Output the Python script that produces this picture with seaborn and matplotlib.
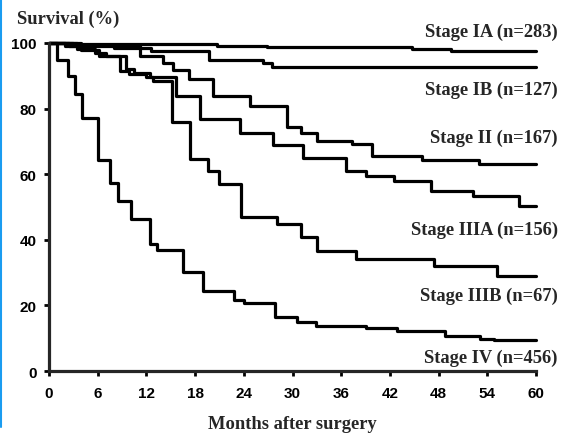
import pandas as pd
import matplotlib.pyplot as plt
import seaborn as sns
from matplotlib.lines import Line2D

# Kaplan-Meier steps (month, survival %)
ia_months = [0, 3, 20.7, 26.8, 44.7, 49.5, 60]
ia_surv = [100, 99.7, 99.2, 98.9, 98.3, 97.5, 97.5]

ib_months = [0, 3.5, 8, 12.6, 19.75, 26.4, 27.5, 60]
ib_surv = [100, 99, 98.5, 97.5, 94.8, 93.8, 92.6, 92.6]

ii_months = [0, 4, 11.2, 14.1, 15.3, 17.2, 20.25, 24.7, 29.3, 31, 33, 37.3, 39.8, 46, 53, 60]
ii_surv = [100, 99.3, 96, 93.9, 91.9, 89, 83.7, 80.7, 74.5, 72.7, 70, 69.2, 65.6, 64.3, 63.1, 63.1]

iiia_months = [0, 2.5, 3.5, 5.7, 7, 9.5, 10.5, 12.5, 15.7, 18.6, 23.5, 27.6, 31.3, 36.6, 39.1,
               42.5, 47, 52.2, 57.9, 60]
iiia_surv = [100, 99, 98.3, 97, 96, 92, 91, 89.5, 83.7, 76.8, 72.7, 69, 64.8, 61.1, 59.4,
             58, 55, 53.5, 50.4, 50.4]

iiib_months = [0, 2, 4, 6.2, 8.7, 9.8, 12, 12.8, 15.1, 17.4, 19.6, 21, 23.6, 28.1, 31, 33,
               37.8, 47.4, 55.2, 60]
iiib_surv = [100, 99, 98, 96, 91.6, 90.5, 89.5, 88.5, 76, 64.7, 60.9, 57, 46.9, 44.8, 40.8, 36.7,
             34, 32.1, 29, 29]

iv_months = [0, 1, 2.3, 3.2, 4.1, 6.05, 7.5, 8.5, 10.1, 12.5, 13.3, 16.5, 19, 22.8, 24, 27.9,
             30.6, 32.9, 39, 42.9, 48.8, 53.1, 54.8, 60]
iv_surv = [100, 94.8, 90, 84.5, 77, 64.4, 57.3, 51.7, 46.2, 38.7, 36.9, 30.1, 24.3, 21.5, 20.6, 16.4,
           14.8, 13.8, 13.0, 12.2, 10.6, 9.75, 9.4, 9.4]

stage_names = ["Stage IA (n=283)", "Stage IB (n=127)", "Stage II (n=167)",
               "Stage IIIA (n=156)", "Stage IIIB (n=67)", "Stage IV (n=456)"]
label_y = [103.4, 86.0, 71.3, 43.3, 23.2, 4.3]
x_ticks = [0, 6, 12, 18, 24, 30, 36, 42, 48, 54, 60]
y_ticks = [0, 20, 40, 60, 80, 100]

series = [(ia_months, ia_surv), (ib_months, ib_surv), (ii_months, ii_surv),
          (iiia_months, iiia_surv), (iiib_months, iiib_surv), (iv_months, iv_surv)]
frames = []
for name, (m, s) in zip(stage_names, series):
    frames.append(pd.DataFrame({"month": m, "survival": s, "stage": name}))
df = pd.concat(frames, ignore_index=True)

sns.set_style("ticks")
serif = ["Liberation Serif", "DejaVu Serif"]
sans = ["Liberation Sans", "DejaVu Sans"]

fig = plt.figure(figsize=(5.68, 4.35), dpi=100)
ax = fig.add_axes([0.0863, 0.1448, 0.8574, 0.7541])

sns.lineplot(data=df, x="month", y="survival", hue="stage", palette=["black"] * 6,
             estimator=None, sort=False, drawstyle="steps-post", linewidth=2.3,
             legend=False, ax=ax, clip_on=False)

ax.set_xlim(0, 60)
ax.set_ylim(0, 100)
ax.set_xticks(x_ticks)
ax.set_yticks(y_ticks)
ax.set_xlabel("")
ax.set_ylabel("")
for sp in ["top", "right"]:
    ax.spines[sp].set_visible(False)
for sp in ["left", "bottom"]:
    ax.spines[sp].set_linewidth(2.3)
ax.tick_params(direction="out", length=3.5, width=2, labelsize=11, colors="black")
ax.tick_params(axis="x", pad=7)
ax.tick_params(axis="y", pad=5.5)
for lab in ax.get_xticklabels() + ax.get_yticklabels():
    lab.set_fontfamily(sans)
    lab.set_fontweight("bold")

for name, y in zip(stage_names, label_y):
    ax.text(62.7, y, name, ha="right", va="center", fontsize=13.3, fontweight="bold",
            family=serif, clip_on=False)

fig.text(0.030, 0.956, "Survival (%)", ha="left", va="center", fontsize=13.3,
         fontweight="bold", family=serif)
fig.text(0.515, 0.025, "Months after surgery", ha="center", va="center", fontsize=13.3,
         fontweight="bold", family=serif)

# thin blue border on the left edge
fig.add_artist(Line2D([0.002, 0.002], [0.016, 1.0], color="#1a9cf0", linewidth=1.5,
                      transform=fig.transFigure))

fig.savefig("out.png", dpi=100)
